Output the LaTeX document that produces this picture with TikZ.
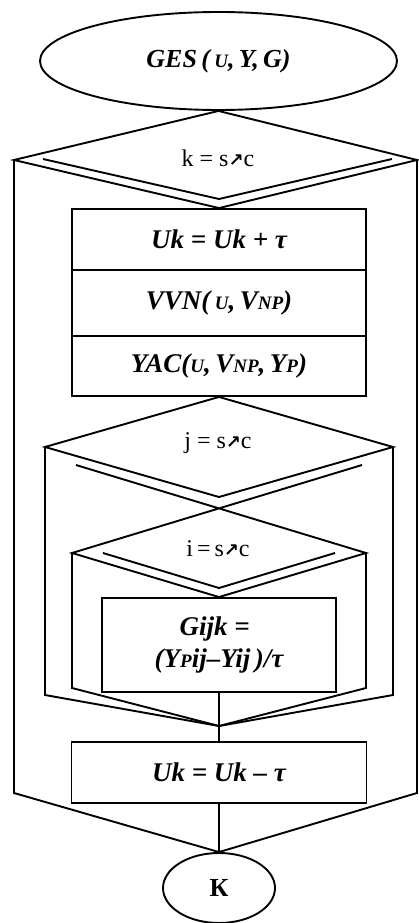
\documentclass[tikz,border=0pt]{standalone}
\usepackage{fontspec}
\setmainfont{Liberation Serif}
\newfontfamily\arrfont{DejaVu Sans}
\usetikzlibrary{shapes.geometric}
\newcommand{\uparr}{{\fontsize{18}{18}\selectfont\arrfont\bfseries ↗}}
\newcommand{\smc}[1]{{\fontsize{19}{19}\selectfont #1}}
\begin{document}
\begin{tikzpicture}[x=1pt,y=-1pt, line width=1.9pt, line join=miter,
  box/.style={draw, rectangle, inner sep=0pt, font=\fontsize{27}{32}\selectfont\bfseries\itshape},
  oval/.style={draw, ellipse, inner sep=0pt},
  cond/.style={inner sep=0pt, font=\fontsize{24}{28}\selectfont}]
\useasboundingbox (0,0) rectangle (419,923);

% start
\node[oval, minimum width=357pt, minimum height=98pt, font=\fontsize{26}{30}\selectfont\bfseries\itshape] (start) at (218.5,61) {GES\,(\,\smc{U},\,Y,\,G)};

% boxes
\node[box, minimum width=294pt, minimum height=61pt] (box1) at (219,239.5) {Uk = Uk + τ};
\node[box, minimum width=294pt, minimum height=66pt] (box2) at (219,303) {VVN(\,\smc{U},\,V\smc{NP})};
\node[box, minimum width=294pt, minimum height=60pt] (box3) at (219,366) {YAC(\smc{U},\,V\smc{NP},\,Y\smc{P})};
\node[box, minimum width=234pt, minimum height=94pt, align=left, font=\fontsize{27}{32}\selectfont\bfseries\itshape] (gbox) at (219,645) {\hspace*{25pt}Gijk =\\(Y\smc{P}ij–Yij\,)/τ};
\node[box, minimum width=295pt, minimum height=61pt] (box5) at (219,772.5) {Uk = Uk – τ};
\node[oval, minimum width=112pt, minimum height=70pt, font=\fontsize{26}{30}\selectfont\bfseries] (kend) at (219,888) {К};

% diamond 1
\coordinate (L1) at (14,160);
\coordinate (R1) at (417,160);
\coordinate (I1a) at (43,159);
\coordinate (I1m) at (219,199);
\coordinate (I1b) at (392,159);
\draw (start.south) -- (R1) -- (box1.north) -- (L1) -- cycle;
\draw (I1a) -- (I1m) -- (I1b);
\node[cond] (c1) at (218,158) {k = s\uparr c};

% diamond 2
\coordinate (L2) at (45,447);
\coordinate (R2) at (393,447);
\coordinate (B2) at (219,497);
\draw (box3.south) -- (R2) -- (B2) -- (L2) -- cycle;
\node[cond] (c2) at (218,443) {j = s\uparr c};

% diamond 3
\coordinate (L3) at (72,553);
\coordinate (R3) at (366,553);
\coordinate (D2a) at (76,465);
\coordinate (D2b) at (362,465);
\draw (D2a) -- (R3) -- (gbox.north) -- (L3) -- (D2b);
\coordinate (I3a) at (103,553);
\coordinate (I3m) at (219,588);
\coordinate (I3b) at (335,553);
\draw (I3a) -- (I3m) -- (I3b);
\node[cond] (c3) at (218,549) {i\,=\,s\uparr c};

% loop returns
\coordinate (J) at (219,726);
\coordinate (L2d) at (45,695);
\coordinate (R2d) at (393,695);
\coordinate (L3d) at (72,688);
\coordinate (R3d) at (366,688);
\draw (L2) -- (L2d) -- (J);
\draw (R2) -- (R2d) -- (J);
\draw (L3) -- (L3d) -- (J);
\draw (R3) -- (R3d) -- (J);
\draw (gbox.south) -- (box5.north);

\coordinate (L1d) at (14,793);
\coordinate (R1d) at (417,793);
\draw (L1) -- (L1d) -- (kend.north);
\draw (R1) -- (R1d) -- (kend.north);
\draw (box5.south) -- (kend.north);
\end{tikzpicture}
\end{document}
